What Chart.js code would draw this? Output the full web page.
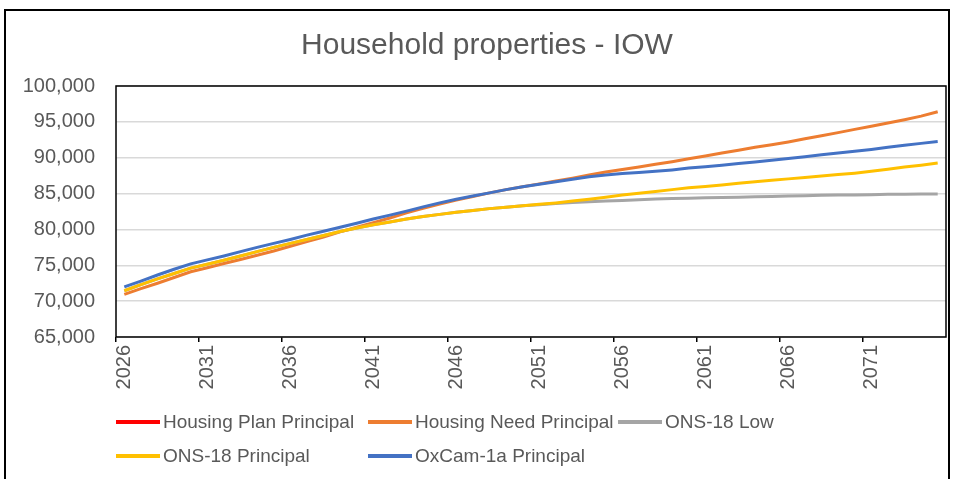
<!DOCTYPE html>
<html>
<head>
<meta charset="utf-8">
<script src="https://cdn.jsdelivr.net/npm/chart.js@4.4.1/dist/chart.umd.min.js"></script>
<style>
  html, body { margin: 0; padding: 0; background: #fff; }
  #wrap { position: relative; width: 958px; height: 479px; overflow: hidden; font-family: "Liberation Sans", Arial, sans-serif; }
  #frame { position: absolute; left: 4px; top: 9px; width: 946px; height: 490px; border: 2px solid #000; box-sizing: border-box; pointer-events: none; }
  #title { position: absolute; left: 0; width: 974px; top: 26px; text-align: center; font-size: 30px; color: #595959; line-height: 36px; }
  .leg { position: absolute; font-size: 19px; color: #595959; line-height: 22px; white-space: nowrap; }
  .leg i { display: inline-block; width: 44px; height: 4px; vertical-align: middle; margin-right: 3px; position: relative; top: -1px; }
  canvas { position: absolute; left: 0; top: 0; }
</style>
</head>
<body>
<div id="wrap">
  <canvas id="chart" width="958" height="479"></canvas>
  <div id="frame"></div>
  <div id="title">Household properties - IOW</div>
  <div id="legend"></div>
</div>
<script>
// categories
const years = [
  '2026','2027','2028','2029','2030','2031','2032','2033','2034','2035',
  '2036','2037','2038','2039','2040','2041','2042','2043','2044','2045',
  '2046','2047','2048','2049','2050','2051','2052','2053','2054','2055',
  '2056','2057','2058','2059','2060','2061','2062','2063','2064','2065',
  '2066','2067','2068','2069','2070','2071','2072','2073','2074','2075'
];

// series (households)
const housingPlanPrincipal = [];

const housingNeedPrincipal = [
  70950, 71750, 72500, 73300, 74100, 74650, 75250, 75800, 76400, 77000,
  77650, 78300, 78950, 79650, 80300, 80950, 81600, 82300, 82950, 83550,
  84100, 84600, 85100, 85550, 85950, 86350, 86750, 87150, 87600, 88000,
  88350, 88700, 89100, 89450, 89850, 90250, 90650, 91050, 91450, 91800,
  92200, 92650, 93050, 93500, 93950, 94400, 94850, 95300, 95800, 96400
];

const ons18Low = [
  71450, 72300, 73100, 73850, 74600, 75150, 75700, 76300, 76900, 77500,
  78050, 78600, 79150, 79700, 80200, 80650, 81050, 81450, 81800, 82100,
  82400, 82650, 82900, 83100, 83300, 83450, 83600, 83750, 83850, 83950,
  84050, 84150, 84250, 84300, 84350, 84400, 84450, 84500, 84550, 84600,
  84650, 84700, 84750, 84800, 84800, 84850, 84900, 84900, 84950, 84950
];

const ons18Principal = [
  71450, 72300, 73100, 73850, 74600, 75150, 75700, 76300, 76900, 77500,
  78050, 78600, 79150, 79700, 80200, 80650, 81050, 81450, 81800, 82100,
  82400, 82650, 82900, 83100, 83300, 83500, 83700, 83950, 84200, 84500,
  84800, 85050, 85300, 85550, 85800, 86000, 86200, 86450, 86650, 86850,
  87050, 87250, 87450, 87650, 87850, 88100, 88400, 88700, 88950, 89250
];

const oxCam1aPrincipal = [
  72000, 72800, 73650, 74450, 75200, 75750, 76300, 76900, 77500, 78050,
  78600, 79200, 79750, 80300, 80850, 81450, 82000, 82550, 83150, 83700,
  84200, 84650, 85100, 85550, 85950, 86300, 86650, 87000, 87350, 87600,
  87800, 87950, 88100, 88300, 88550, 88750, 88950, 89200, 89400, 89650,
  89900, 90150, 90400, 90650, 90900, 91150, 91450, 91750, 92000, 92250
];

// y axis ticks
const yMin = 65000;
const yMax = 100000;
const yStep = 5000;

const series = [
  { label: 'Housing Plan Principal', data: housingPlanPrincipal, color: '#FF0000' },
  { label: 'Housing Need Principal', data: housingNeedPrincipal, color: '#ED7D31' },
  { label: 'ONS-18 Low', data: ons18Low, color: '#A5A5A5' },
  { label: 'ONS-18 Principal', data: ons18Principal, color: '#FFC000' },
  { label: 'OxCam-1a Principal', data: oxCam1aPrincipal, color: '#4472C4' }
];

// legend laid out like the Excel one: 3 columns, 2 rows
const legendPos = [[116, 411], [368, 411], [618, 411], [116, 445], [368, 445]];
const legendEl = document.getElementById('legend');
series.forEach((s, i) => {
  const d = document.createElement('div');
  d.className = 'leg';
  d.style.left = legendPos[i][0] + 'px';
  d.style.top = legendPos[i][1] + 'px';
  d.innerHTML = '<i style="background:' + s.color + '"></i>' + s.label;
  legendEl.appendChild(d);
});

// black border round the plot area
const plotFrame = {
  id: 'plotFrame',
  beforeDatasetsDraw(chart) {
    const { ctx, chartArea: a } = chart;
    ctx.save();
    ctx.strokeStyle = '#000';
    ctx.lineWidth = 1.5;
    ctx.strokeRect(a.left, a.top, a.right - a.left, a.bottom - a.top);
    ctx.restore();
  }
};

const tickFont = { family: '"Liberation Sans", Arial, sans-serif', size: 20 };

new Chart(document.getElementById('chart'), {
  type: 'line',
  data: {
    labels: years,
    datasets: series.map((s, i) => ({
      label: s.label,
      data: s.data,
      borderColor: s.color,
      backgroundColor: s.color,
      borderWidth: 3,
      pointRadius: 0,
      tension: 0,
      fill: false,
      order: series.length - 1 - i
    }))
  },
  options: {
    responsive: false,
    animation: false,
    layout: { padding: { left: 23, top: 86, right: 12, bottom: 42 } },
    plugins: {
      legend: { display: false },
      title: { display: false },
      tooltip: { enabled: false }
    },
    scales: {
      x: {
        type: 'category',
        offset: true,
        afterFit(scale) {
          scale.height = 100;
          scale.paddingLeft = 0;
          scale.paddingRight = 0;
        },
        grid: {
          offset: true,
          drawOnChartArea: false,
          drawTicks: true,
          tickLength: 5,
          lineWidth: 1.5,
          color: (ctx) => (ctx.index % 5 === 0 ? '#000' : 'rgba(0,0,0,0)')
        },
        border: { display: false },
        ticks: {
          autoSkip: false,
          maxRotation: 90,
          minRotation: 90,
          padding: 3,
          color: '#595959',
          font: tickFont,
          callback: function (value, index) {
            return index % 5 === 0 ? this.getLabelForValue(value) : '';
          }
        }
      },
      y: {
        min: yMin,
        max: yMax,
        afterFit(scale) { scale.width = 93; },
        grid: { color: '#d9d9d9', lineWidth: 1.5, drawTicks: false },
        border: { display: false },
        ticks: {
          stepSize: yStep,
          padding: 21,
          color: '#595959',
          font: tickFont,
          callback: (v) => v.toLocaleString('en-US')
        }
      }
    }
  },
  plugins: [plotFrame]
});
</script>
</body>
</html>
